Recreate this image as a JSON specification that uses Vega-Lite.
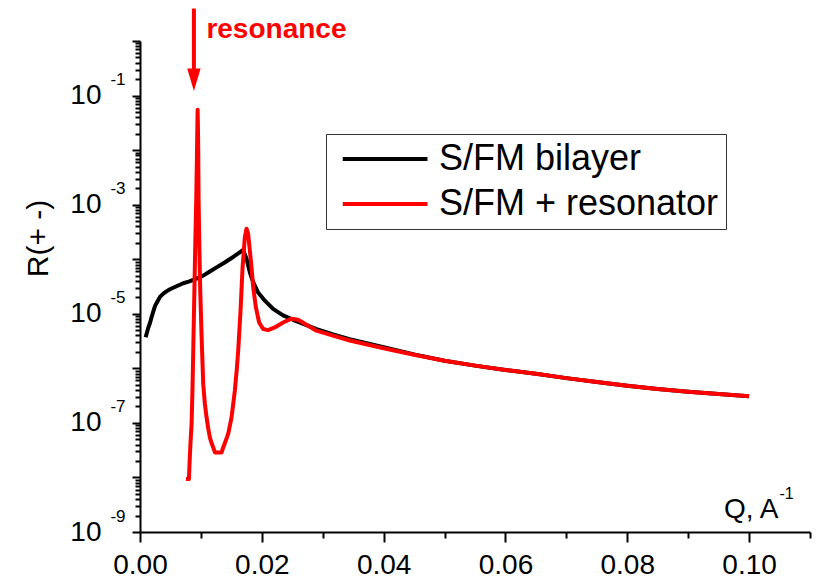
{
  "$schema": "https://vega.github.io/schema/vega-lite/v6.json",
  "width": 670,
  "height": 491,
  "autosize": {"type": "none"},
  "padding": {"left": 140, "top": 41, "right": 9, "bottom": 47},
  "config": {
    "font": "Liberation Sans",
    "view": {"stroke": null},
    "axis": {
      "grid": false,
      "domainColor": "#000000",
      "domainWidth": 2,
      "tickColor": "#000000",
      "tickWidth": 2,
      "labelColor": "#000000",
      "titleColor": "#000000",
      "labelFont": "Liberation Sans",
      "titleFont": "Liberation Sans",
      "titleFontWeight": "normal",
      "labelFlush": false,
      "labelOverlap": false,
      "labelBound": false
    }
  },
  "datasets": {
    "curves": [
      {"Q": 0.00093, "R": 3.72e-6, "series": "S/FM bilayer"},
      {"Q": 0.00137, "R": 5.62e-6, "series": "S/FM bilayer"},
      {"Q": 0.00164, "R": 6.76e-6, "series": "S/FM bilayer"},
      {"Q": 0.00191, "R": 8.71e-6, "series": "S/FM bilayer"},
      {"Q": 0.0022, "R": 1.12e-5, "series": "S/FM bilayer"},
      {"Q": 0.00246, "R": 1.38e-5, "series": "S/FM bilayer"},
      {"Q": 0.00273, "R": 1.58e-5, "series": "S/FM bilayer"},
      {"Q": 0.00328, "R": 2.04e-5, "series": "S/FM bilayer"},
      {"Q": 0.00383, "R": 2.34e-5, "series": "S/FM bilayer"},
      {"Q": 0.0044, "R": 2.6e-5, "series": "S/FM bilayer"},
      {"Q": 0.00492, "R": 2.82e-5, "series": "S/FM bilayer"},
      {"Q": 0.006, "R": 3.2e-5, "series": "S/FM bilayer"},
      {"Q": 0.0071, "R": 3.63e-5, "series": "S/FM bilayer"},
      {"Q": 0.008, "R": 3.89e-5, "series": "S/FM bilayer"},
      {"Q": 0.00874, "R": 4.17e-5, "series": "S/FM bilayer"},
      {"Q": 0.0095, "R": 4.52e-5, "series": "S/FM bilayer"},
      {"Q": 0.01038, "R": 5.01e-5, "series": "S/FM bilayer"},
      {"Q": 0.0114, "R": 5.89e-5, "series": "S/FM bilayer"},
      {"Q": 0.01257, "R": 7.08e-5, "series": "S/FM bilayer"},
      {"Q": 0.0139, "R": 8.71e-5, "series": "S/FM bilayer"},
      {"Q": 0.0153, "R": 1.1e-4, "series": "S/FM bilayer"},
      {"Q": 0.0162, "R": 1.29e-4, "series": "S/FM bilayer"},
      {"Q": 0.01694, "R": 1.48e-4, "series": "S/FM bilayer"},
      {"Q": 0.01749, "R": 1.02e-4, "series": "S/FM bilayer"},
      {"Q": 0.01803, "R": 5.75e-5, "series": "S/FM bilayer"},
      {"Q": 0.01858, "R": 3.8e-5, "series": "S/FM bilayer"},
      {"Q": 0.0194, "R": 2.45e-5, "series": "S/FM bilayer"},
      {"Q": 0.0205, "R": 1.74e-5, "series": "S/FM bilayer"},
      {"Q": 0.02185, "R": 1.23e-5, "series": "S/FM bilayer"},
      {"Q": 0.02349, "R": 9.33e-6, "series": "S/FM bilayer"},
      {"Q": 0.02514, "R": 7.76e-6, "series": "S/FM bilayer"},
      {"Q": 0.02733, "R": 6.17e-6, "series": "S/FM bilayer"},
      {"Q": 0.029, "R": 5.25e-6, "series": "S/FM bilayer"},
      {"Q": 0.0317, "R": 4.17e-6, "series": "S/FM bilayer"},
      {"Q": 0.0344, "R": 3.43e-6, "series": "S/FM bilayer"},
      {"Q": 0.04, "R": 2.43e-6, "series": "S/FM bilayer"},
      {"Q": 0.045, "R": 1.8e-6, "series": "S/FM bilayer"},
      {"Q": 0.05, "R": 1.38e-6, "series": "S/FM bilayer"},
      {"Q": 0.055, "R": 1.12e-6, "series": "S/FM bilayer"},
      {"Q": 0.06, "R": 9.33e-7, "series": "S/FM bilayer"},
      {"Q": 0.065, "R": 7.94e-7, "series": "S/FM bilayer"},
      {"Q": 0.07, "R": 6.61e-7, "series": "S/FM bilayer"},
      {"Q": 0.075, "R": 5.62e-7, "series": "S/FM bilayer"},
      {"Q": 0.08, "R": 4.79e-7, "series": "S/FM bilayer"},
      {"Q": 0.085, "R": 4.17e-7, "series": "S/FM bilayer"},
      {"Q": 0.09, "R": 3.72e-7, "series": "S/FM bilayer"},
      {"Q": 0.095, "R": 3.39e-7, "series": "S/FM bilayer"},
      {"Q": 0.1, "R": 3.09e-7, "series": "S/FM bilayer"},

      {"Q": 0.00754, "R": 9.33e-9, "series": "S/FM + resonator"},
      {"Q": 0.00803, "R": 9.33e-9, "series": "S/FM + resonator"},
      {"Q": 0.00815, "R": 2.0e-8, "series": "S/FM + resonator"},
      {"Q": 0.0083, "R": 4.47e-8, "series": "S/FM + resonator"},
      {"Q": 0.00847, "R": 9.55e-8, "series": "S/FM + resonator"},
      {"Q": 0.0086, "R": 3.55e-7, "series": "S/FM + resonator"},
      {"Q": 0.00872, "R": 1.58e-6, "series": "S/FM + resonator"},
      {"Q": 0.00893, "R": 2.69e-5, "series": "S/FM + resonator"},
      {"Q": 0.00908, "R": 2.0e-4, "series": "S/FM + resonator"},
      {"Q": 0.00923, "R": 1.2e-3, "series": "S/FM + resonator"},
      {"Q": 0.00935, "R": 7.94e-3, "series": "S/FM + resonator"},
      {"Q": 0.00942, "R": 2.82e-2, "series": "S/FM + resonator"},
      {"Q": 0.00946, "R": 5.5e-2, "series": "S/FM + resonator"},
      {"Q": 0.00951, "R": 2.82e-2, "series": "S/FM + resonator"},
      {"Q": 0.00956, "R": 1.0e-2, "series": "S/FM + resonator"},
      {"Q": 0.00962, "R": 1.2e-3, "series": "S/FM + resonator"},
      {"Q": 0.00975, "R": 1.58e-4, "series": "S/FM + resonator"},
      {"Q": 0.00989, "R": 2.69e-5, "series": "S/FM + resonator"},
      {"Q": 0.0101, "R": 4.27e-6, "series": "S/FM + resonator"},
      {"Q": 0.01038, "R": 5.13e-7, "series": "S/FM + resonator"},
      {"Q": 0.01065, "R": 2.24e-7, "series": "S/FM + resonator"},
      {"Q": 0.01093, "R": 1.26e-7, "series": "S/FM + resonator"},
      {"Q": 0.0112, "R": 7.94e-8, "series": "S/FM + resonator"},
      {"Q": 0.01148, "R": 5.37e-8, "series": "S/FM + resonator"},
      {"Q": 0.01175, "R": 4.27e-8, "series": "S/FM + resonator"},
      {"Q": 0.01202, "R": 3.55e-8, "series": "S/FM + resonator"},
      {"Q": 0.0123, "R": 2.88e-8, "series": "S/FM + resonator"},
      {"Q": 0.0134, "R": 2.88e-8, "series": "S/FM + resonator"},
      {"Q": 0.01366, "R": 3.55e-8, "series": "S/FM + resonator"},
      {"Q": 0.014, "R": 4.47e-8, "series": "S/FM + resonator"},
      {"Q": 0.01448, "R": 6.31e-8, "series": "S/FM + resonator"},
      {"Q": 0.01503, "R": 1.26e-7, "series": "S/FM + resonator"},
      {"Q": 0.01557, "R": 3.89e-7, "series": "S/FM + resonator"},
      {"Q": 0.0159, "R": 1.0e-6, "series": "S/FM + resonator"},
      {"Q": 0.01612, "R": 2.09e-6, "series": "S/FM + resonator"},
      {"Q": 0.01651, "R": 1.15e-5, "series": "S/FM + resonator"},
      {"Q": 0.01684, "R": 7.08e-5, "series": "S/FM + resonator"},
      {"Q": 0.01721, "R": 2.51e-4, "series": "S/FM + resonator"},
      {"Q": 0.01749, "R": 3.63e-4, "series": "S/FM + resonator"},
      {"Q": 0.01775, "R": 2.95e-4, "series": "S/FM + resonator"},
      {"Q": 0.01803, "R": 1.45e-4, "series": "S/FM + resonator"},
      {"Q": 0.01831, "R": 7.08e-5, "series": "S/FM + resonator"},
      {"Q": 0.01858, "R": 3.09e-5, "series": "S/FM + resonator"},
      {"Q": 0.01902, "R": 1.32e-5, "series": "S/FM + resonator"},
      {"Q": 0.01956, "R": 6.92e-6, "series": "S/FM + resonator"},
      {"Q": 0.02021, "R": 5.25e-6, "series": "S/FM + resonator"},
      {"Q": 0.02103, "R": 5.01e-6, "series": "S/FM + resonator"},
      {"Q": 0.02213, "R": 5.62e-6, "series": "S/FM + resonator"},
      {"Q": 0.02349, "R": 6.92e-6, "series": "S/FM + resonator"},
      {"Q": 0.02487, "R": 8.13e-6, "series": "S/FM + resonator"},
      {"Q": 0.02595, "R": 7.76e-6, "series": "S/FM + resonator"},
      {"Q": 0.02733, "R": 6.31e-6, "series": "S/FM + resonator"},
      {"Q": 0.02897, "R": 4.9e-6, "series": "S/FM + resonator"},
      {"Q": 0.03169, "R": 3.98e-6, "series": "S/FM + resonator"},
      {"Q": 0.03443, "R": 3.24e-6, "series": "S/FM + resonator"},
      {"Q": 0.04, "R": 2.34e-6, "series": "S/FM + resonator"},
      {"Q": 0.045, "R": 1.78e-6, "series": "S/FM + resonator"},
      {"Q": 0.05, "R": 1.38e-6, "series": "S/FM + resonator"},
      {"Q": 0.055, "R": 1.12e-6, "series": "S/FM + resonator"},
      {"Q": 0.06, "R": 9.33e-7, "series": "S/FM + resonator"},
      {"Q": 0.065, "R": 7.94e-7, "series": "S/FM + resonator"},
      {"Q": 0.07, "R": 6.61e-7, "series": "S/FM + resonator"},
      {"Q": 0.075, "R": 5.62e-7, "series": "S/FM + resonator"},
      {"Q": 0.08, "R": 4.79e-7, "series": "S/FM + resonator"},
      {"Q": 0.085, "R": 4.17e-7, "series": "S/FM + resonator"},
      {"Q": 0.09, "R": 3.72e-7, "series": "S/FM + resonator"},
      {"Q": 0.095, "R": 3.39e-7, "series": "S/FM + resonator"},
      {"Q": 0.1, "R": 3.09e-7, "series": "S/FM + resonator"}
    ],
    "arrow": [
      {"Q": 0.00885, "top": 3.93, "base": 0.3, "tip": 0.121}
    ],
    "note": [
      {"Q": 0.0109, "R": 1.15, "label": "resonance"}
    ]
  },
  "layer": [
    {
      "data": {"name": "curves"},
      "transform": [{"filter": "datum.series === 'S/FM bilayer'"}],
      "mark": {"type": "line", "strokeWidth": 4, "strokeJoin": "round"},
      "encoding": {
        "x": {
          "field": "Q",
          "type": "quantitative",
          "scale": {"domain": [0, 0.11], "nice": false, "zero": false},
          "axis": {
            "orient": "bottom",
            "title": "Q, A",
            "values": [0, 0.01, 0.02, 0.03, 0.04, 0.05, 0.06, 0.07, 0.08, 0.09, 0.1, 0.11],
            "labelExpr": "round(datum.value * 100) % 2 == 0 ? format(datum.value, '.2f') : ''",
            "tickSize": {"condition": {"test": "round(datum.value * 100) % 2 == 0", "value": 10}, "value": 6},
            "labelFontSize": 28,
            "labelPadding": 9,
            "titleFontSize": 28,
            "titleAlign": "right",
            "titleAnchor": "end",
            "titleBaseline": "alphabetic",
            "titleX": 638,
            "titleY": -15
          }
        },
        "y": {
          "field": "R",
          "type": "quantitative",
          "scale": {"type": "log", "domain": [1e-9, 1], "nice": false},
          "axis": {
            "orient": "left",
            "title": "R(+ -)",
            "values": [1e-9, 2e-9, 3e-9, 4e-9, 5e-9, 6e-9, 7e-9, 8e-9, 9e-9,
                       1e-8, 2e-8, 3e-8, 4e-8, 5e-8, 6e-8, 7e-8, 8e-8, 9e-8,
                       1e-7, 2e-7, 3e-7, 4e-7, 5e-7, 6e-7, 7e-7, 8e-7, 9e-7,
                       1e-6, 2e-6, 3e-6, 4e-6, 5e-6, 6e-6, 7e-6, 8e-6, 9e-6,
                       1e-5, 2e-5, 3e-5, 4e-5, 5e-5, 6e-5, 7e-5, 8e-5, 9e-5,
                       1e-4, 2e-4, 3e-4, 4e-4, 5e-4, 6e-4, 7e-4, 8e-4, 9e-4,
                       1e-3, 2e-3, 3e-3, 4e-3, 5e-3, 6e-3, 7e-3, 8e-3, 9e-3,
                       1e-2, 2e-2, 3e-2, 4e-2, 5e-2, 6e-2, 7e-2, 8e-2, 9e-2,
                       1e-1, 2e-1, 3e-1, 4e-1, 5e-1, 6e-1, 7e-1, 8e-1, 9e-1, 1],
            "labelExpr": "abs(log(datum.value) / LN10 - round(log(datum.value) / LN10)) < 0.01 && round(log(datum.value) / LN10) % 2 != 0 ? '10' : ''",
            "tickSize": {"condition": {"test": "abs(log(datum.value) / LN10 - round(log(datum.value) / LN10)) < 0.01", "value": 8}, "value": 5},
            "labelFontSize": 28,
            "labelPadding": 31,
            "titleFontSize": 30,
            "titleAngle": 270,
            "titleAlign": "center",
            "titleBaseline": "alphabetic",
            "titleX": -93,
            "titleY": 197
          }
        },
        "color": {
          "field": "series",
          "type": "nominal",
          "scale": {"domain": ["S/FM bilayer", "S/FM + resonator"], "range": ["#000000", "#ff0000"]},
          "legend": {
            "title": null,
            "orient": "none",
            "legendX": 186,
            "legendY": 93,
            "symbolType": "M-0.75,0L6.95,0",
            "symbolSize": 484,
            "symbolStrokeWidth": 4,
            "labelFontSize": 36,
            "labelFont": "Liberation Sans",
            "labelColor": "#000000",
            "labelLimit": 0,
            "labelOffset": 70,
            "strokeColor": "#333333",
            "fillColor": "#ffffff",
            "padding": 7,
            "rowPadding": 9
          }
        }
      }
    },
    {
      "data": {"name": "curves"},
      "transform": [{"filter": "datum.series === 'S/FM + resonator'"}],
      "mark": {"type": "line", "strokeWidth": 4, "strokeJoin": "round"},
      "encoding": {
        "x": {"field": "Q", "type": "quantitative", "axis": null},
        "y": {"field": "R", "type": "quantitative", "axis": null},
        "color": {"field": "series", "type": "nominal"}
      }
    },
    {
      "data": {"name": "arrow"},
      "mark": {"type": "rule", "color": "#ff0000", "strokeWidth": 4},
      "encoding": {
        "x": {"field": "Q", "type": "quantitative", "axis": null},
        "y": {"field": "top", "type": "quantitative", "axis": null},
        "y2": {"field": "base"}
      }
    },
    {
      "data": {"name": "arrow"},
      "mark": {"type": "point", "shape": "M-0.61,-2.04L0.61,-2.04L0,0Z", "filled": true, "color": "#ff0000", "opacity": 1, "size": 484, "strokeWidth": 0},
      "encoding": {
        "x": {"field": "Q", "type": "quantitative", "axis": null},
        "y": {"field": "tip", "type": "quantitative", "axis": null}
      }
    },
    {
      "data": {"name": "note"},
      "mark": {"type": "text", "align": "left", "baseline": "alphabetic", "fontWeight": "bold", "fontSize": 28, "color": "#ff0000"},
      "encoding": {
        "x": {
          "field": "Q",
          "type": "quantitative",
          "axis": {
            "orient": "bottom",
            "title": "-1",
            "domain": false,
            "ticks": false,
            "labels": false,
            "titleFontSize": 16,
            "titleAlign": "left",
            "titleAnchor": "end",
            "titleBaseline": "alphabetic",
            "titleX": 639,
            "titleY": -34
          }
        },
        "y": {
          "field": "R",
          "type": "quantitative",
          "axis": {
            "orient": "left",
            "title": null,
            "domain": false,
            "ticks": false,
            "values": [1e-9, 1e-7, 1e-5, 1e-3, 1e-1],
            "labelExpr": "'' + round(log(datum.value) / LN10)",
            "labelFontSize": 17,
            "labelAlign": "right",
            "labelPadding": 15,
            "labelOffset": -16
          }
        },
        "text": {"field": "label"}
      }
    }
  ],
  "resolve": {"axis": {"x": "independent", "y": "independent"}}
}
